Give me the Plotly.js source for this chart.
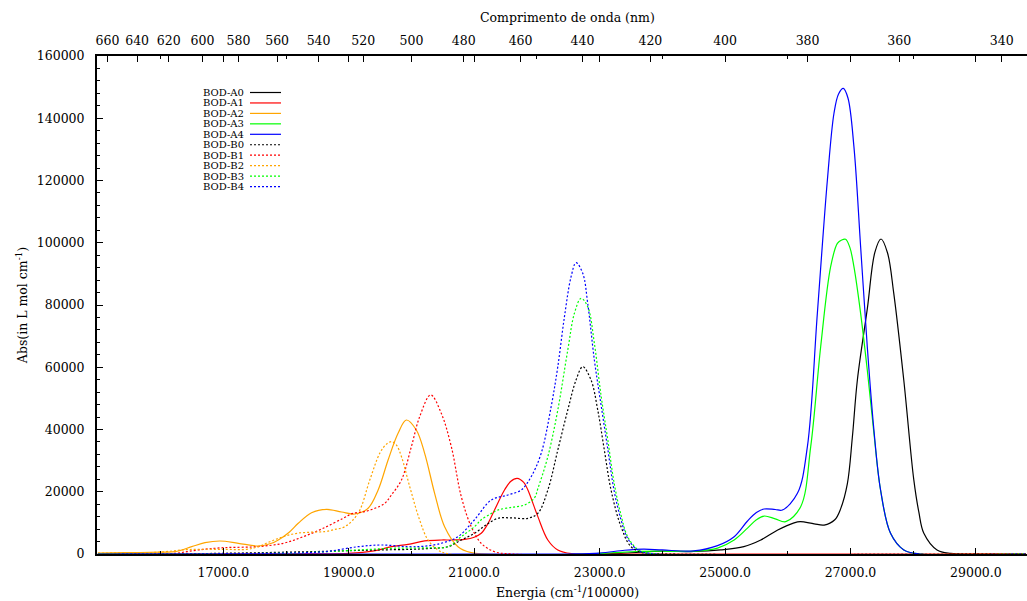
<!DOCTYPE html>
<html>
<head>
<meta charset="utf-8">
<script src="https://cdn.plot.ly/plotly-3.0.1.min.js"></script>
<style>html,body{margin:0;padding:0;background:#fff;}#chart{width:1027px;height:601px;}</style>
</head>
<body>
<div id="chart"></div>
<script>
// ---- Data (energy in cm^-1, absorbance) ----
const seriesNames = ['BOD-A0','BOD-A1','BOD-A2','BOD-A3','BOD-A4','BOD-B0','BOD-B1','BOD-B2','BOD-B3','BOD-B4'];

const A0_x = [15000,23000,23500,24000,24500,24930,25300,25570,25840,26100,26200,26420,26580,26750,26843,26950,27030,27110,27270,27390,27487,27590,27690,27850,28010,28090,28170,28380,28600,29000,29800];
const A0_y = [0,0,400,950,800,1300,2350,4500,7700,10000,10400,9700,9300,11000,14500,22500,37500,55900,79000,97000,101200,96800,83800,55900,23800,13500,6650,1300,200,0,0];

const A1_x = [15000,18000,18990,19400,19680,19945,20210,20475,20650,20846,21000,21112,21220,21324,21483,21580,21685,21790,21856,22015,22174,22333,22550,23000,29800];
const A1_y = [0,0,200,1000,2350,3100,4200,4500,4500,4720,5400,6650,9800,14140,20560,23300,24320,23000,20560,12000,4500,1290,100,0,0];

const A2_x = [15000,15435,16000,16231,16495,16707,16946,17239,17557,17769,17876,18050,18194,18406,18645,18884,19095,19308,19468,19627,19786,19918,20077,20210,20369,20528,20741,20953,21200,29800];
const A2_y = [300,420,600,740,2350,3630,4180,3440,2570,3440,4500,7000,9860,13270,14360,13500,12850,14680,20560,30200,38780,43050,39840,32350,19500,8770,2350,420,0,0];

const A3_x = [15000,22800,23200,23600,24000,24500,24880,25145,25358,25500,25622,25800,25968,26206,26366,26525,26684,26791,26860,26923,26990,27055,27162,27268,27374,27480,27639,27851,28100,29800];
const A3_y = [0,0,400,800,900,900,1900,4500,8300,11000,12200,11300,10380,15200,34480,66600,92300,99800,100900,101100,98500,92300,77300,59100,38800,20560,6650,1290,0,0];

const A4_x = [15000,22500,23000,23400,23700,24000,24500,24880,25145,25358,25500,25622,25800,25915,26154,26313,26472,26632,26737,26810,26886,26960,27055,27162,27268,27374,27480,27639,27851,28100,29800];
const A4_y = [0,0,300,1200,1550,1300,1000,2700,5560,10600,13300,14460,14300,14140,19500,34480,77340,120170,141600,147800,149600,146500,130900,98740,66600,39840,20560,6650,1290,0,0];

const B0_x = [15000,16500,17500,18500,19000,19500,20000,20300,20582,20794,21005,21200,21378,21600,21855,22015,22174,22333,22492,22624,22731,22863,22970,23075,23182,23341,23500,23700,24000,29800];
const B0_y = [0,100,400,800,1060,1300,1500,1800,2350,4500,6650,9500,11470,11600,11470,13080,20560,33400,46270,55900,60180,55900,46270,33400,20560,8770,2350,300,0,0];

const B1_x = [15000,15800,16221,16596,17000,17530,17955,18273,18591,18910,19069,19250,19416,19575,19680,19840,19998,20130,20306,20475,20635,20794,20953,21112,21324,21600,29800];
const B1_y = [0,50,200,1290,2030,2350,3440,5560,8250,11470,13080,13600,14680,16290,18960,23780,34480,44110,51090,45200,34480,18410,8770,3440,740,0,0];

const B2_x = [15000,15500,16000,16327,16596,17000,17371,17550,17742,17955,18169,18400,18617,18800,18936,19149,19335,19494,19600,19680,19760,19840,19972,20130,20263,20422,20600,29800];
const B2_y = [300,400,600,1290,1500,1500,1500,2300,3950,5560,6650,7000,7200,8000,8770,13080,23780,32350,35300,36080,35000,31260,21620,10920,4500,1290,0,0];

const B3_x = [15000,17000,18000,18600,19150,19680,20000,20300,20582,20794,21005,21112,21272,21378,21600,21801,21960,22015,22174,22333,22492,22598,22704,22810,22916,23022,23128,23234,23341,23447,23606,23800,29800];
const B3_y = [0,100,300,700,1290,1830,1900,2000,2350,5560,8770,11000,13000,14140,15000,15750,18000,21000,31260,46270,65540,77340,82150,79460,67700,51000,37000,22500,12500,5560,1500,200,0];

const B4_x = [15000,17000,18000,18617,19150,19520,19945,20200,20475,20741,21005,21272,21537,21749,21908,22068,22227,22333,22439,22545,22624,22731,22810,22916,23022,23128,23234,23341,23447,23606,23800,29800];
const B4_y = [0,100,300,740,2350,2890,2350,2500,3440,5560,11000,17350,18960,20560,24840,32350,47330,60180,76240,89100,93600,90190,80550,62330,48000,34000,20000,11000,5000,1300,200,0];

// Tick labels
const energyTicks = [17000,19000,21000,23000,25000,27000,29000];
const wavelengthTicks = [660,640,620,600,580,560,540,520,500,480,460,440,420,400,380,360,340];

// ---- Styling ----
const seriesX = [A0_x,A1_x,A2_x,A3_x,A4_x,B0_x,B1_x,B2_x,B3_x,B4_x];
const seriesY = [A0_y,A1_y,A2_y,A3_y,A4_y,B0_y,B1_y,B2_y,B3_y,B4_y];
const colors = ['#000000','#ff0000','#ffa500','#00ff00','#0000ff','#000000','#ff0000','#ffa500','#00ff00','#0000ff'];
const dashes = ['solid','solid','solid','solid','solid','2px,2px','2px,2px','2px,2px','2px,2px','2px,2px'];

const FONT = 'DejaVu Serif, Liberation Serif, serif';
const XR = [14985, 29815];

const traces = seriesNames.map((n,i)=>({
  type:'scatter', mode:'lines', name:n, x:seriesX[i], y:seriesY[i],
  line:{color:colors[i], width:1.2, dash:dashes[i], shape:'spline', smoothing:1},
  showlegend:false, hoverinfo:'skip'
}));
// invisible trace to activate top axis
traces.push({type:'scatter', mode:'lines', x:[XR[0]], y:[0], xaxis:'x2', yaxis:'y', showlegend:false, hoverinfo:'skip', line:{width:0}});

// custom legend (text left, sample right)
const L = 97, W = 930, T = 56, H = 498;
const annotations = [], shapes = [];
seriesNames.forEach((n,i)=>{
  const py = 92.5 + i*10.45;
  const yp = (554 - py)/H;
  annotations.push({xref:'paper', yref:'paper', x:(246-L)/W, y:yp, xanchor:'right', yanchor:'middle',
    text:n, showarrow:false, font:{family:FONT, size:10, color:'#000'}});
  shapes.push({type:'line', xref:'paper', yref:'paper', x0:(250-L)/W, x1:(281-L)/W, y0:yp, y1:yp,
    line:{color:colors[i], width:1.2, dash:dashes[i]}});
});
// axis titles placed as annotations for exact position
annotations.push({xref:'paper', yref:'paper', x:(567-L)/W, y:(554-592)/H, xanchor:'center', yanchor:'middle',
  text:'Energia (cm<sup>-1</sup>/100000)', showarrow:false, font:{family:FONT, size:12.5, color:'#000'}});
annotations.push({xref:'paper', yref:'paper', x:(567-L)/W, y:(554-18)/H, xanchor:'center', yanchor:'middle',
  text:'Comprimento de onda (nm)', showarrow:false, font:{family:FONT, size:12.5, color:'#000'}});

const layout = {
  width:1027, height:601,
  margin:{l:97, r:0, t:56, b:47, pad:0},
  paper_bgcolor:'#fff', plot_bgcolor:'#fff',
  font:{family:FONT, size:12, color:'#000'},
  showlegend:false,
  xaxis:{
    range:XR, tickvals:energyTicks, ticktext:energyTicks.map(v=>v.toFixed(1)),
    ticks:'inside', ticklen:6, tickwidth:1, tickcolor:'#000',
    minor:{dtick:1000, tick0:0, ticks:'inside', ticklen:3, tickcolor:'#000', showgrid:false},
    showline:true, linewidth:2, linecolor:'#000', mirror:'ticks',
    showgrid:false, zeroline:false, ticklabelstandoff:6,
    tickfont:{family:FONT, size:12.5}
  },
  xaxis2:{
    overlaying:'x', side:'top', range:XR,
    tickvals:wavelengthTicks.map(w=>1e7/w), ticktext:wavelengthTicks.map(String),
    ticks:'inside', ticklen:6, tickwidth:1, tickcolor:'#000',
    showline:true, linewidth:2, linecolor:'#000',
    showgrid:false, zeroline:false, ticklabelstandoff:4,
    tickfont:{family:FONT, size:12.5}
  },
  yaxis:{
    range:[0,160000], dtick:20000, tick0:0,
    ticks:'inside', ticklen:6, tickwidth:1, tickcolor:'#000',
    minor:{dtick:4000, tick0:0, ticks:'inside', ticklen:3, tickcolor:'#000', showgrid:false},
    showline:true, linewidth:2, linecolor:'#000',
    showgrid:false, zeroline:false, ticklabelstandoff:8,
    tickformat:'d',
    tickfont:{family:FONT, size:12.5},
    title:{text:'Abs(in L mol cm<sup>-1</sup>)', font:{family:FONT, size:12.5}, standoff:6}
  },
  annotations:annotations, shapes:shapes
};

Plotly.newPlot('chart', traces, layout, {staticPlot:true, displayModeBar:false});
</script>
</body>
</html>
